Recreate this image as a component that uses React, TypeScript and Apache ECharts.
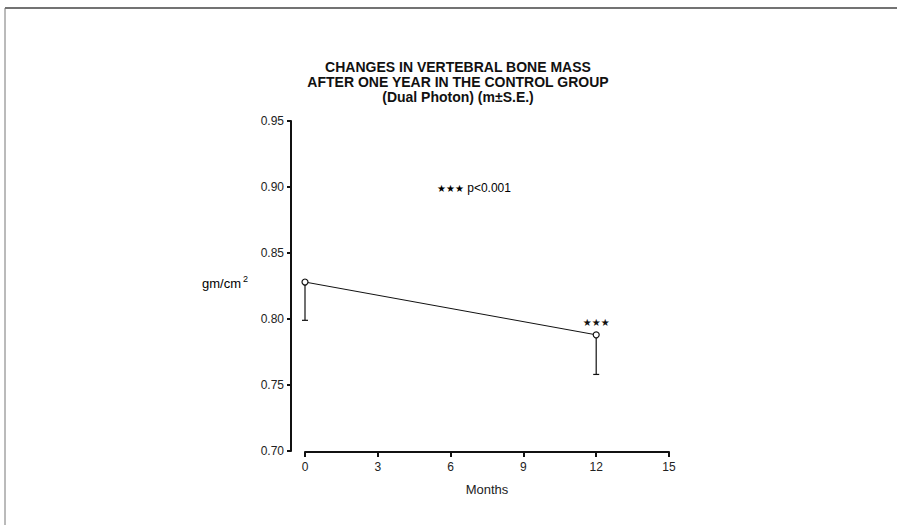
import React, { useEffect, useRef } from "react";
import * as echarts from "echarts";

const months = [0, 12];
const meanValues = [0.828, 0.788];
const seValues = [0.029, 0.030];
const xTicks = [0, 3, 6, 9, 12, 15];
const yTicks = [0.7, 0.75, 0.8, 0.85, 0.9, 0.95];
const titleLines = [
  "CHANGES IN VERTEBRAL BONE MASS",
  "AFTER ONE YEAR IN THE CONTROL GROUP",
  "(Dual Photon) (m\u00b1S.E.)",
];
const sigMarks = ["", "\u2605\u2605\u2605"];

const FONT = "Liberation Sans, Arial, Helvetica, sans-serif";

export default function App() {
  const ref = useRef<HTMLDivElement>(null);
  useEffect(() => {
    if (!ref.current) return;
    const chart = echarts.init(ref.current, null, { renderer: "svg" });
    const lineData = months.map((m, i) => ({
      value: [m, meanValues[i]],
      label: {
        show: sigMarks[i] !== "",
        formatter: sigMarks[i],
        position: "top",
        distance: 4,
        fontSize: 10,
        color: "#111",
        fontFamily: "DejaVu Sans",
      },
    }));
    const errData = months.map((m, i) => [m, meanValues[i], meanValues[i] - seValues[i]]);
    chart.setOption({
      animation: false,
      backgroundColor: "#fff",
      grid: { left: 305, right: 228, top: 121, bottom: 74, containLabel: false },
      xAxis: {
        type: "value",
        min: xTicks[0],
        max: xTicks[xTicks.length - 1],
        interval: 3,
        offset: 1,
        axisLine: { show: true, onZero: false, lineStyle: { color: "#111", width: 2 } },
        axisTick: { show: true, inside: false, length: 5, lineStyle: { color: "#111", width: 2 } },
        axisLabel: { color: "#222", fontSize: 12, fontFamily: FONT, margin: 9 },
        splitLine: { show: false },
        name: "Months",
        nameLocation: "middle",
        nameGap: 31,
        nameTextStyle: { color: "#222", fontSize: 13, fontFamily: FONT },
      },
      yAxis: {
        type: "value",
        min: yTicks[0],
        max: yTicks[yTicks.length - 1],
        interval: 0.05,
        offset: 14,
        axisLine: { show: true, onZero: false, lineStyle: { color: "#111", width: 2 } },
        axisTick: { show: true, length: 4, lineStyle: { color: "#111", width: 2 } },
        axisLabel: {
          color: "#222",
          fontSize: 12,
          fontFamily: FONT,
          margin: 7,
          formatter: (v: number) => v.toFixed(2),
        },
        splitLine: { show: false },
      },
      series: [
        {
          type: "custom",
          data: errData,
          renderItem: (params: any, api: any) => {
            const x = api.value(0);
            const top = api.coord([x, api.value(1)]);
            const bot = api.coord([x, api.value(2)]);
            return {
              type: "group",
              children: [
                {
                  type: "line",
                  shape: { x1: top[0], y1: top[1], x2: bot[0], y2: bot[1] },
                  style: { stroke: "#111", lineWidth: 1.2 },
                },
                {
                  type: "line",
                  shape: { x1: bot[0] - 3, y1: bot[1], x2: bot[0] + 3, y2: bot[1] },
                  style: { stroke: "#111", lineWidth: 1.2 },
                },
              ],
            };
          },
          z: 1,
        },
        {
          type: "line",
          data: lineData,
          symbol: "circle",
          symbolSize: 6,
          itemStyle: { color: "#fff", borderColor: "#111", borderWidth: 1.2 },
          lineStyle: { color: "#111", width: 1 },
          z: 3,
        },
      ],
      graphic: [
        {
          type: "line",
          shape: { x1: 5, y1: 8, x2: 897, y2: 8 },
          style: { stroke: "#444", lineWidth: 1.5 },
        },
        {
          type: "line",
          shape: { x1: 5, y1: 8, x2: 5, y2: 525 },
          style: { stroke: "#777", lineWidth: 1 },
        },
        ...titleLines.map((t, i) => ({
          type: "text",
          x: 458,
          y: 67 + i * 15,
          style: {
            text: t,
            fill: "#111",
            font: `bold 14px ${FONT}`,
            textAlign: "center",
            textVerticalAlign: "middle",
          },
        })),
        {
          type: "text",
          x: 248,
          y: 283,
          style: {
            text: "{a|gm/cm}{b|2}",
            textAlign: "right",
            textVerticalAlign: "middle",
            rich: {
              a: { fontSize: 13, fontFamily: FONT, color: "#222" },
              b: { fontSize: 9, fontFamily: FONT, color: "#222", verticalAlign: "top", padding: [0, 0, 8, 2] },
            },
          },
        },
        {
          type: "text",
          x: 437,
          y: 188,
          style: {
            text: "{s|\u2605\u2605\u2605} {p|p<0.001}",
            textVerticalAlign: "middle",
            rich: {
              s: { fontSize: 10, fontFamily: "DejaVu Sans", color: "#111" },
              p: { fontSize: 12, fontFamily: FONT, color: "#222" },
            },
          },
        },
      ],
    });
    return () => chart.dispose();
  }, []);
  return (
    <div
      ref={ref}
      style={{ position: "fixed", left: 0, top: 0, width: 897, height: 525 }}
    />
  );
}
